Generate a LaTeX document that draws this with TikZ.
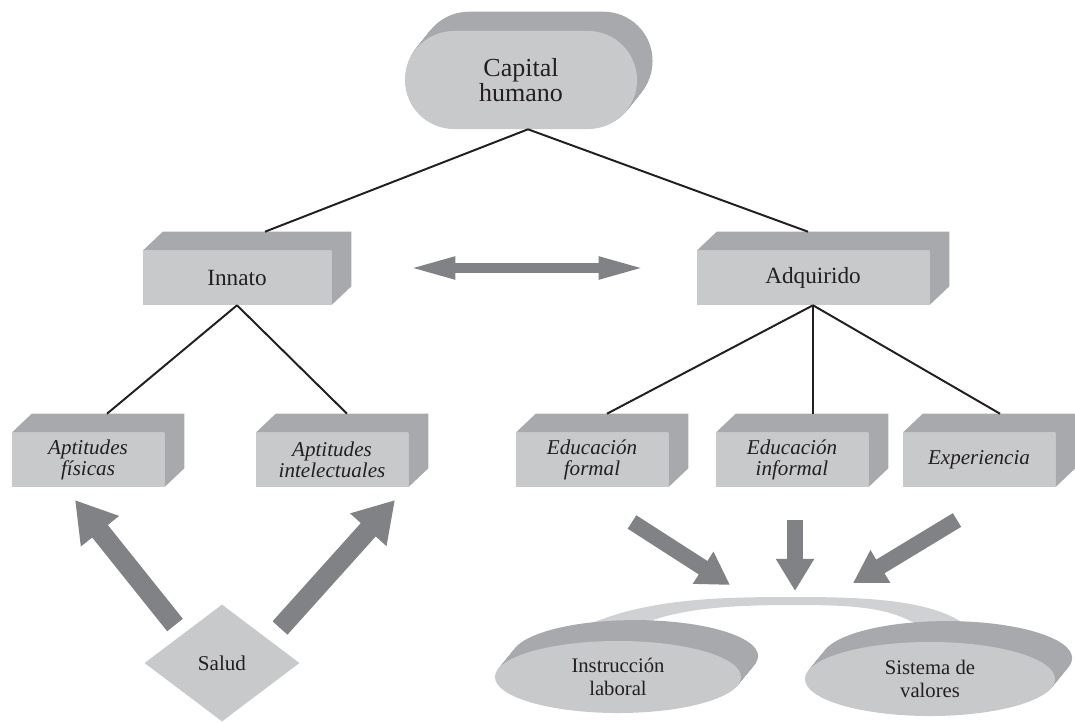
\documentclass[tikz,border=0pt]{standalone}
\usepackage{fontspec}
\setmainfont{Liberation Serif}
\usetikzlibrary{arrows.meta}
\usetikzlibrary{shapes.geometric}
\usetikzlibrary{backgrounds}
\definecolor{frontgray}{RGB}{200,201,203}
\definecolor{sidegray}{RGB}{167,169,172}
\definecolor{arrowgray}{RGB}{128,130,133}
\definecolor{bandgray}{RGB}{208,209,211}
\definecolor{inkblack}{RGB}{35,31,32}

\begin{document}
\begin{tikzpicture}[x=0.025cm, y=-0.025cm,
  bigbox/.style={rectangle, fill=frontgray, minimum height=1.35cm, inner sep=0pt, text=inkblack, font=\fontsize{16.5}{16.5}\selectfont},
  smallbox/.style={rectangle, fill=frontgray, minimum width=3.8cm, minimum height=1.35cm, inner sep=0pt, align=center, text=inkblack, font=\fontsize{15}{15}\selectfont\itshape},
  disc/.style={ellipse, fill=frontgray, inner sep=0pt, align=center, text=inkblack, font=\fontsize{14.7}{16.5}\selectfont},
  link/.style={draw=inkblack, line width=1.4pt},
  fatarrow/.style={draw=arrowgray, line width=0.5cm, -{Triangle[length=1cm, width=1.15cm]}},
  midarrow/.style={draw=arrowgray, line width=0.4cm, -{Triangle[length=0.8cm, width=0.9cm]}},
  dblarrow/.style={draw=arrowgray, line width=0.25cm, {Triangle[length=1.2cm, width=0.5cm]}-{Triangle[length=1.2cm, width=0.5cm]}},
]
\useasboundingbox (0,0) rectangle (1075,722);

% top
\node[fill=frontgray, rounded corners=1.225cm, minimum width=5.8cm, minimum height=2.45cm, align=center, text=inkblack, font=\fontsize{18.5}{16.5}\selectfont] (cap) at (521,80) {Capital\\humano};

% second level
\node[bigbox, minimum width=4.7cm] (innato) at (237,278) {Innato};
\node[bigbox, minimum width=5.8cm] (adquirido) at (813,278) {Adquirido};

% third level
\node[smallbox] (fisicas) at (88,460) {Aptitudes\\físicas};
\node[smallbox] (intel) at (332,460) {Aptitudes\\intelectuales};
\node[smallbox] (formal) at (592,460) {Educación\\formal};
\node[smallbox] (informal) at (792,460) {Educación\\informal};
\node[smallbox] (exper) at (979,460) {Experiencia};

% bottom
\node[diamond, fill=frontgray, minimum width=3.875cm, minimum height=2.925cm, inner sep=0pt, text=inkblack, font=\fontsize{15}{15}\selectfont] (salud) at (222,663) {Salud};
\node[disc, minimum width=6.15cm, minimum height=1.8cm] (instr) at (618,677) {Instrucción\\laboral};
\node[disc, minimum width=6.25cm, minimum height=1.85cm] (valores) at (930,679) {Sistema de\\valores};
\coordinate (hub) at (795,595);

% depth of boxes
\foreach \n in {innato,adquirido,fisicas,intel,formal,informal,exper}
  \fill[sidegray] (\n.north west) -- ++(20,-19) -- ([shift={(20,-19)}]\n.north east) -- ([shift={(20,-19)}]\n.south east) -- (\n.south east) -- (\n.north east) -- cycle;

\begin{pgfonlayer}{background}
\fill[bandgray] (577,630) .. controls (640,598) and (720,597) .. (795,597) .. controls (870,597) and (940,600) .. (972,630) -- (925,630) .. controls (895,608) and (860,605) .. (795,605) .. controls (730,605) and (670,608) .. (630,630) -- cycle;
\foreach \t in {0.05,0.1,...,1}{
  \fill[sidegray, rounded corners=1.225cm] ([shift={(\t*16,-\t*20)}]cap.south west) rectangle ([shift={(\t*16,-\t*20)}]cap.north east);
  \fill[sidegray] ([shift={(\t*18,-\t*22)}]instr.center) ellipse [x radius=123, y radius=36];
  \fill[sidegray] ([shift={(\t*18,-\t*22)}]valores.center) ellipse [x radius=125, y radius=37];
}
\end{pgfonlayer}

% connectors
\draw[link] ([shift={(7,0)}]cap.south) -- ([shift={(28,-19)}]innato.north);
\draw[link] ([shift={(7,0)}]cap.south) -- ([shift={(-5,-19)}]adquirido.north);
\draw[link] (innato.south) -- ([shift={(19,-19)}]fisicas.north);
\draw[link] (innato.south) -- ([shift={(15,-19)}]intel.north);
\draw[link] (adquirido.south) -- ([shift={(15,-19)}]formal.north);
\draw[link] (adquirido.south) -- ([shift={(21,-19)}]informal.north);
\draw[link] (adquirido.south) -- ([shift={(21,-19)}]exper.north);

% arrows
\draw[dblarrow] ([shift={(76,-10)}]innato.east) -- ([shift={(-50,-10)}]adquirido.west);
\draw[fatarrow] ([shift={(-47,-38)}]salud.center) -- ([shift={(-13,40)}]fisicas.center);
\draw[fatarrow] ([shift={(58,-35)}]salud.center) -- ([shift={(63,40)}]intel.center);
\draw[midarrow] ([shift={(40,62)}]formal.center) -- ([shift={(-65,-10)}]hub);
\draw[midarrow] ([shift={(3,60)}]informal.center) -- ([shift={(0,-4)}]hub);
\draw[midarrow] ([shift={(-22,60)}]exper.center) -- ([shift={(58,-12)}]hub);
\end{tikzpicture}
\end{document}
